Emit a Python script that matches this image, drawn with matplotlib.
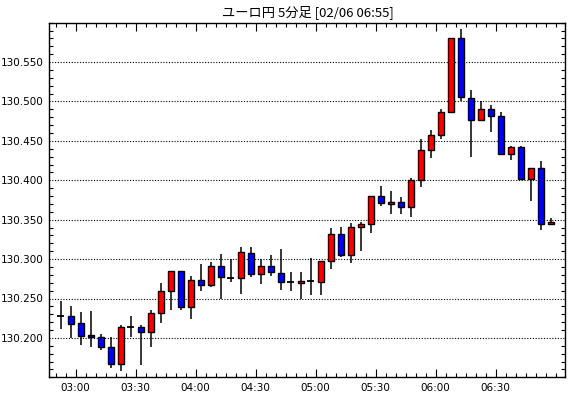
import numpy as np
import matplotlib
matplotlib.use('Agg')
import matplotlib.pyplot as plt
from matplotlib.ticker import MultipleLocator, FixedLocator

# 5分足 02:50 - 06:55
start_time = '02:50'
opens = [130.228, 130.228, 130.219, 130.204, 130.201, 130.189, 130.167, 130.214, 130.214, 130.207,
         130.231, 130.259, 130.285, 130.239, 130.273, 130.267, 130.291, 130.276, 130.276, 130.308,
         130.281, 130.291, 130.282, 130.271, 130.270, 130.272, 130.271, 130.297, 130.332, 130.305,
         130.341, 130.344, 130.380, 130.370, 130.373, 130.366, 130.400, 130.439, 130.458, 130.487,
         130.580, 130.505, 130.477, 130.491, 130.481, 130.433, 130.442, 130.402, 130.415, 130.345]
highs = [130.247, 130.241, 130.233, 130.234, 130.205, 130.201, 130.216, 130.228, 130.217, 130.236,
         130.270, 130.285, 130.285, 130.278, 130.294, 130.296, 130.307, 130.300, 130.315, 130.315,
         130.300, 130.305, 130.313, 130.284, 130.284, 130.302, 130.297, 130.340, 130.341, 130.346,
         130.347, 130.380, 130.393, 130.387, 130.379, 130.403, 130.453, 130.464, 130.491, 130.580,
         130.592, 130.514, 130.500, 130.495, 130.487, 130.443, 130.443, 130.416, 130.424, 130.352]
lows = [130.211, 130.200, 130.191, 130.189, 130.185, 130.162, 130.158, 130.201, 130.165, 130.189,
        130.219, 130.235, 130.236, 130.224, 130.259, 130.265, 130.250, 130.271, 130.256, 130.277,
        130.269, 130.279, 130.261, 130.259, 130.250, 130.255, 130.255, 130.288, 130.303, 130.295,
        130.310, 130.333, 130.367, 130.357, 130.357, 130.354, 130.392, 130.428, 130.452, 130.487,
        130.500, 130.429, 130.475, 130.461, 130.433, 130.426, 130.400, 130.374, 130.337, 130.343]
closes = [130.228, 130.218, 130.203, 130.201, 130.188, 130.167, 130.214, 130.214, 130.208, 130.231,
          130.259, 130.285, 130.239, 130.273, 130.267, 130.291, 130.277, 130.276, 130.309, 130.281,
          130.291, 130.283, 130.271, 130.271, 130.272, 130.272, 130.297, 130.332, 130.305, 130.341,
          130.344, 130.380, 130.371, 130.373, 130.366, 130.400, 130.439, 130.458, 130.487, 130.580,
          130.506, 130.477, 130.491, 130.481, 130.433, 130.442, 130.402, 130.415, 130.345, 130.347]
tick_labels = ['03:00', '03:30', '04:00', '04:30', '05:00', '05:30', '06:00', '06:30']
title = 'ユーロ円 5分足 [02/06 06:55]'

o = np.array(opens)
h = np.array(highs)
l = np.array(lows)
c = np.array(closes)

# 時刻(分) -> ローソクは足の中央に描く
h0, m0 = map(int, start_time.split(':'))
t = h0 * 60 + m0 + 5 * np.arange(len(o))
x = t + 2.5

fig = plt.figure(figsize=(5.7, 3.98), dpi=100)
ax = fig.add_axes([0.0865, 0.052, 0.9045, 0.891])

# ヒゲ
ax.vlines(x, l, h, color='black', lw=1.1, zorder=2)

# 実体
up = c > o
down = c < o
doji = c == o
ax.bar(x[up], (c - o)[up], bottom=o[up], width=2.9, color='#ff0000',
       edgecolor='black', lw=1.0, zorder=3)
ax.bar(x[down], (o - c)[down], bottom=c[down], width=2.9, color='#0000ff',
       edgecolor='black', lw=1.0, zorder=3)
ax.hlines(c[doji], x[doji] - 1.7, x[doji] + 1.7, color='black', lw=1.3, zorder=3)

# 軸
ax.set_xlim(166.8, 424.6)
ax.set_ylim(130.150, 130.600)
ax.yaxis.set_major_locator(FixedLocator([130.20, 130.25, 130.30, 130.35, 130.40, 130.45, 130.50, 130.55]))
ax.yaxis.set_minor_locator(MultipleLocator(0.01))
ax.yaxis.set_major_formatter(plt.FuncFormatter(lambda v, p: '%.3f' % v))

tick_pos = [int(s[:2]) * 60 + int(s[3:]) for s in tick_labels]
ax.set_xticks(tick_pos)
ax.set_xticklabels(tick_labels)
ax.xaxis.set_minor_locator(MultipleLocator(5))

ax.tick_params(which='both', direction='in', top=True, right=True, labelsize=7.5,
               color='black', width=0.8)
ax.tick_params(which='major', length=6, pad=4)
ax.tick_params(which='minor', length=3)
ax.tick_params(axis='y', which='major', length=0)
for sp in ax.spines.values():
    sp.set_linewidth(1.0)

ax.grid(axis='y', which='major', color='black', linestyle=(0, (1, 1.5)), lw=0.8)
ax.set_axisbelow(True)

fig.text(0.54, 0.970, title, ha='center', va='center', fontsize=9.5,
         family=['Noto Sans CJK JP', 'DejaVu Sans'])

fig.savefig('out.png', dpi=100)
